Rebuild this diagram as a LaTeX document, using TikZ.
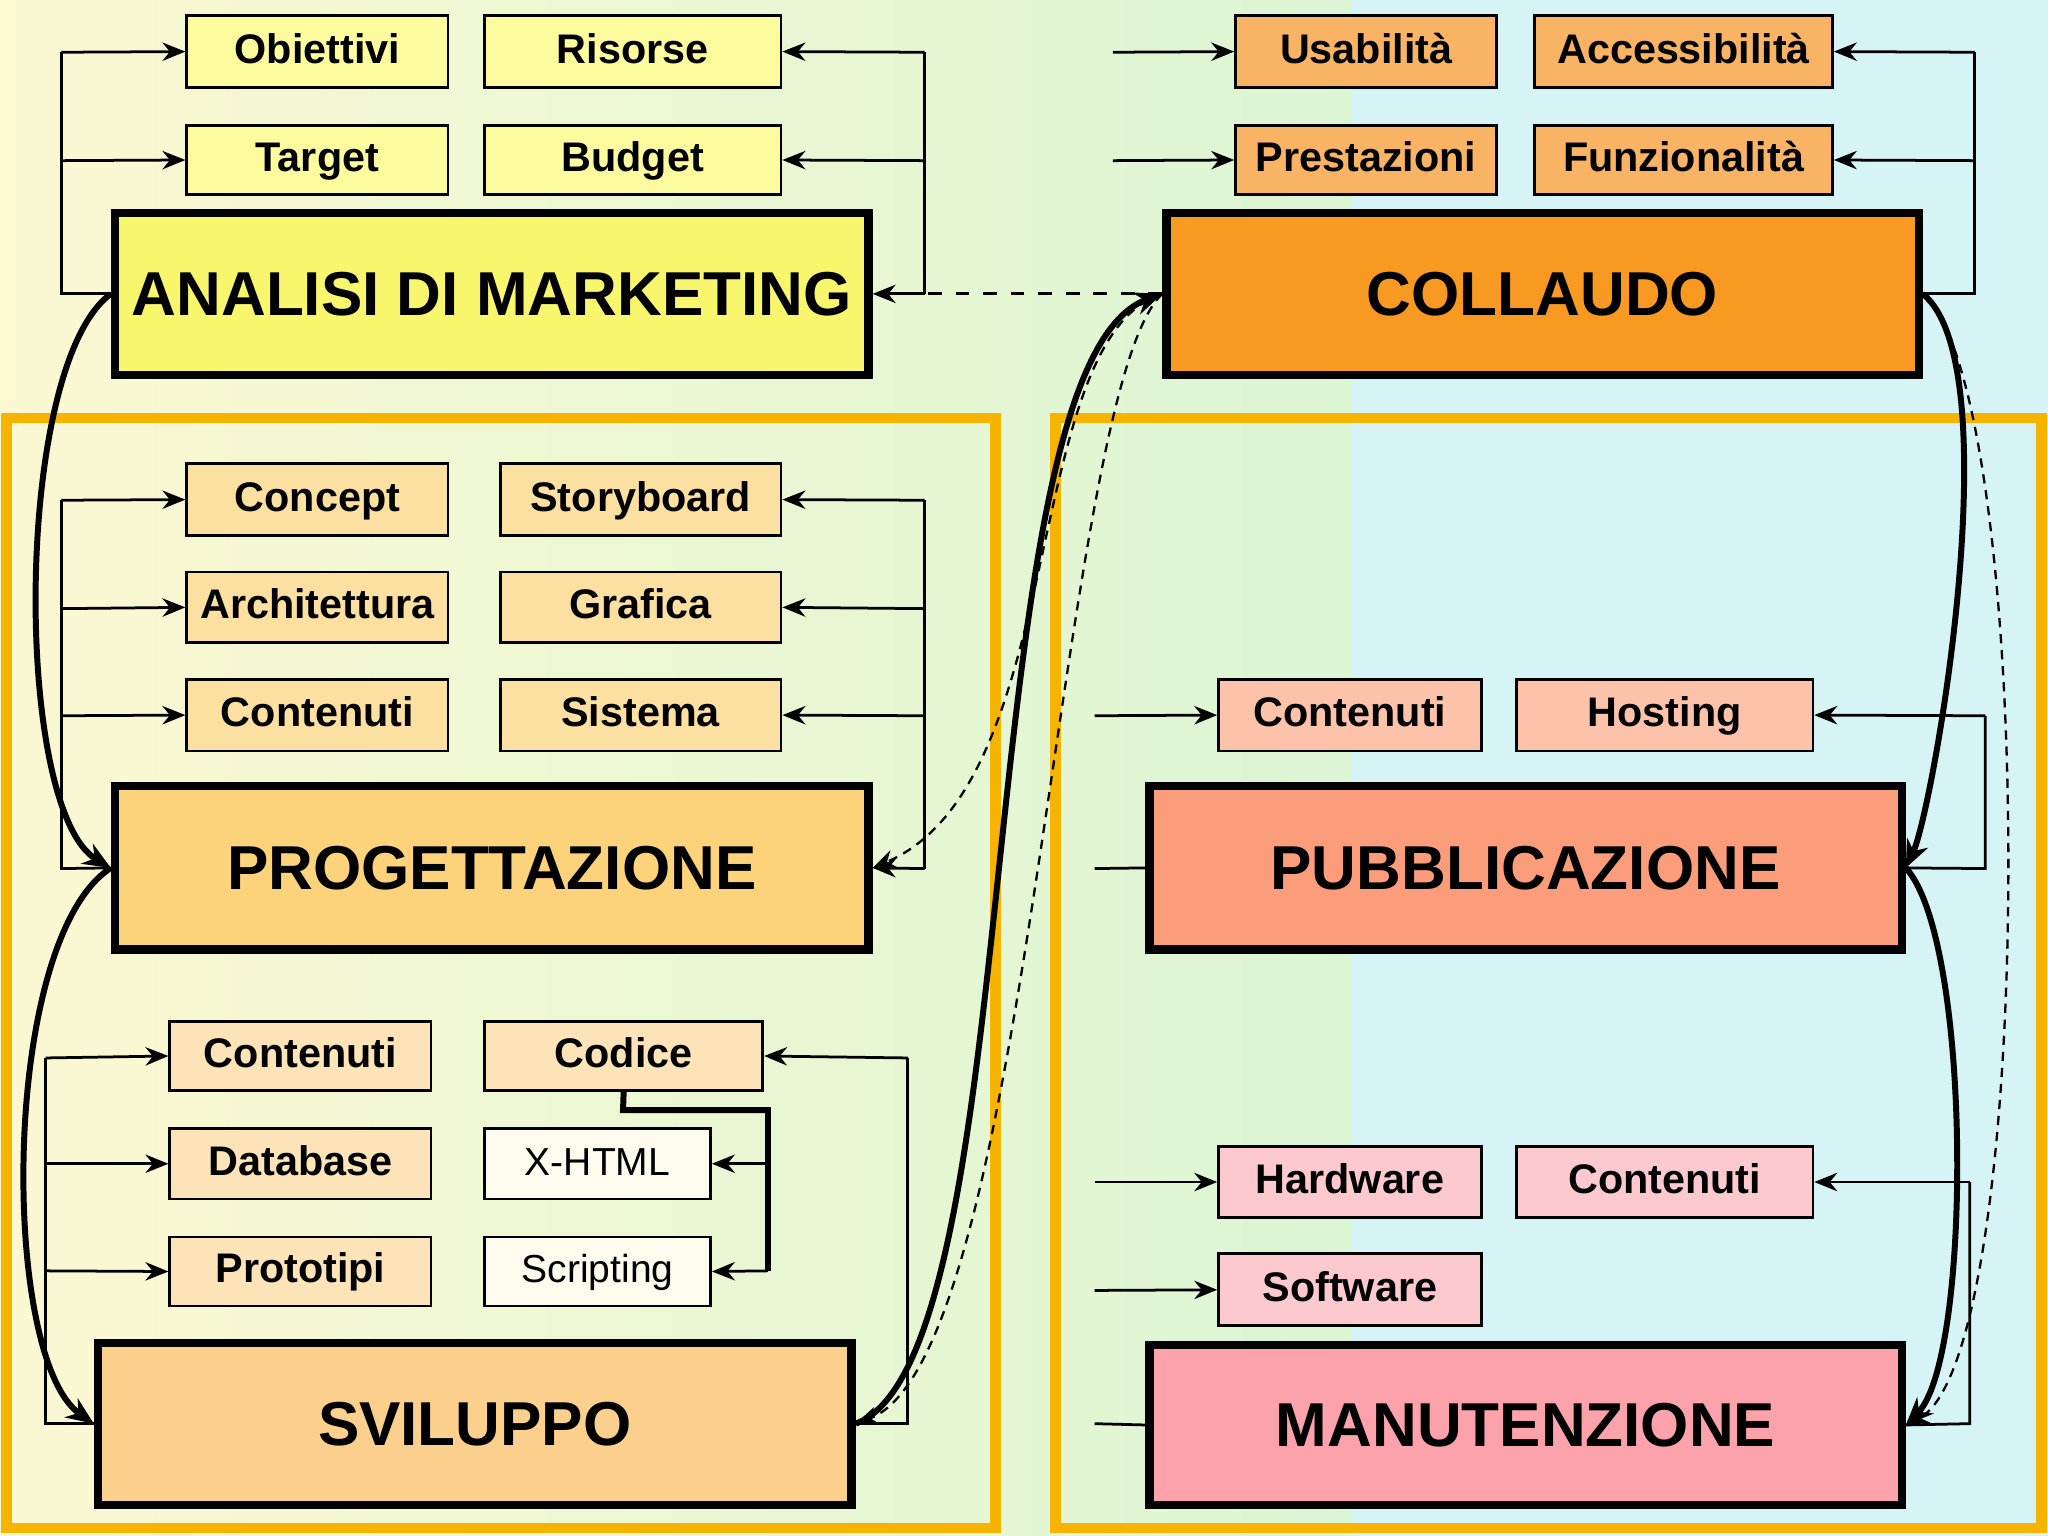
\documentclass[tikz,border=0pt]{standalone}
\usepackage{fontspec}
\setmainfont{Liberation Sans}
\usetikzlibrary{arrows.meta}
\definecolor{frameor}{HTML}{F6B400}
\definecolor{bgy}{HTML}{FBF8D2}
\definecolor{bgg}{HTML}{DCF5D4}
\definecolor{bgc}{HTML}{D6F3F5}
\definecolor{cy1}{HTML}{FCFB9E}
\definecolor{cy2}{HTML}{F8F66C}
\definecolor{co1}{HTML}{F8B464}
\definecolor{co2}{HTML}{F89A22}
\definecolor{cp1}{HTML}{FCE0A2}
\definecolor{cp2}{HTML}{FCD27A}
\definecolor{cs1}{HTML}{FCE4B8}
\definecolor{cs2}{HTML}{FBD08C}
\definecolor{cw}{HTML}{FDFAEE}
\definecolor{cb1}{HTML}{FCC2AA}
\definecolor{cb2}{HTML}{FB9C7A}
\definecolor{cm1}{HTML}{FCCACE}
\definecolor{cm2}{HTML}{FCA2AA}
\tikzset{
 x=0.01cm,y=-0.01cm,
 sm/.style={draw=black,line width=0.6pt,font=\bfseries\fontsize{9}{10}\selectfont,inner sep=0pt,text height=6.5pt,text depth=1.5pt},
 thin/.style={draw=black,line width=0.6pt,font=\fontsize{8.5}{10}\selectfont,inner sep=0pt,fill=cw,text height=6.5pt,text depth=1.5pt},
 big/.style={draw=black,line width=1.8pt,font=\bfseries\fontsize{13.5}{15}\selectfont,inner sep=0pt},
 ar/.style={-{Stealth[length=5pt,width=4pt]},line width=0.6pt},
 ln/.style={line width=0.6pt},
 tk/.style={-{Stealth[length=6pt,width=5pt]},line width=1.3pt},
 ds/.style={-{Stealth[length=5pt,width=4pt]},line width=0.5pt,dash pattern=on 2pt off 1.5pt},
}
\newcommand{\bx}[7]{\node[#6,minimum width={(#4-#2)*0.01cm},minimum height={(#5-#3)*0.01cm}] (#1) at ({(#2+#4)/2},{(#3+#5)/2}) {#7};}
\begin{document}
\begin{tikzpicture}
\useasboundingbox (0,0) rectangle (1568,1176);
\shade[left color=bgy,right color=bgg] (0,0) rectangle (1035,1176);
\fill[bgc] (1035,0) rectangle (1568,1176);
\draw[frameor,line width=2.3pt] (5,320) rectangle (762,1170);
\draw[frameor,line width=2.3pt] (808,320) rectangle (1563,1170);
% analisi
\bx{ob}{143}{12}{343}{67}{sm,fill=cy1}{Obiettivi}
\bx{ri}{371}{12}{598}{67}{sm,fill=cy1}{Risorse}
\bx{ta}{143}{96}{343}{149}{sm,fill=cy1}{Target}
\bx{bu}{371}{96}{598}{149}{sm,fill=cy1}{Budget}
\bx{am}{88}{163}{665}{287}{big,fill=cy2}{ANALISI DI MARKETING}
% collaudo
\bx{us}{946}{12}{1146}{67}{sm,fill=co1}{Usabilità}
\bx{ac}{1175}{12}{1403}{67}{sm,fill=co1}{Accessibilità}
\bx{pr}{946}{96}{1146}{149}{sm,fill=co1}{Prestazioni}
\bx{fu}{1175}{96}{1403}{149}{sm,fill=co1}{Funzionalità}
\bx{co}{893}{163}{1469}{287}{big,fill=co2}{COLLAUDO}
% progettazione
\bx{cn}{143}{355}{343}{410}{sm,fill=cp1}{Concept}
\bx{st}{383}{355}{598}{410}{sm,fill=cp1}{Storyboard}
\bx{arc}{143}{438}{343}{492}{sm,fill=cp1}{Architettura}
\bx{gr}{383}{438}{598}{492}{sm,fill=cp1}{Grafica}
\bx{ct1}{143}{520}{343}{575}{sm,fill=cp1}{Contenuti}
\bx{si}{383}{520}{598}{575}{sm,fill=cp1}{Sistema}
\bx{pg}{88}{602}{665}{727}{big,fill=cp2}{PROGETTAZIONE}
% sviluppo
\bx{ct2}{130}{782}{330}{835}{sm,fill=cs1}{Contenuti}
\bx{cd}{371}{782}{584}{835}{sm,fill=cs1}{Codice}
\bx{db}{130}{864}{330}{918}{sm,fill=cs1}{Database}
\bx{xh}{371}{864}{544}{918}{thin}{X-HTML}
\bx{pt}{130}{947}{330}{1000}{sm,fill=cs1}{Prototipi}
\bx{sc}{371}{947}{544}{1000}{thin}{Scripting}
\bx{sv}{75}{1028}{652}{1152}{big,fill=cs2}{SVILUPPO}
% pubblicazione
\bx{ct3}{933}{520}{1134}{575}{sm,fill=cb1}{Contenuti}
\bx{ho}{1161}{520}{1388}{575}{sm,fill=cb1}{Hosting}
\bx{pb}{880}{602}{1456}{727}{big,fill=cb2}{PUBBLICAZIONE}
% manutenzione
\bx{hw}{933}{878}{1134}{932}{sm,fill=cm1}{Hardware}
\bx{ct4}{1161}{878}{1388}{932}{sm,fill=cm1}{Contenuti}
\bx{sw}{933}{960}{1134}{1015}{sm,fill=cm1}{Software}
\bx{mn}{880}{1030}{1456}{1152}{big,fill=cm2}{MANUTENZIONE}
% free coordinates
\coordinate (u0) at (852,40); \coordinate (p0) at (852,123);
\coordinate (c30) at (838,548); \coordinate (hw0) at (838,905); \coordinate (sw0) at (838,988);
\coordinate (pb0) at (838,665); \coordinate (mn0) at (838,1090);
% analisi brackets
\draw[ln] (am.west) -- (47,225) -- (47,40);
\draw[ar] (47,40) -- (ob.west);
\draw[ar] (47,123) -- (ta.west);
\draw[ln] (708,225) -- (708,40);
\draw[ar] (708,40) -- (ri.east);
\draw[ar] (708,123) -- (bu.east);
\draw[ar] (708,225) -- (am.east);
\draw[ln,dashed] (co.west) -- (708,225);
% collaudo
\draw[ar] (u0) -- (us.west);
\draw[ar] (p0) -- (pr.west);
\draw[ln] (co.east) -- (1512,225) -- (1512,40);
\draw[ar] (1512,40) -- (ac.east);
\draw[ar] (1512,123) -- (fu.east);
% progettazione
\draw[ln] (pg.west) -- (47,665) -- (47,383);
\draw[ar] (47,383) -- (cn.west);
\draw[ar] (47,466) -- (arc.west);
\draw[ar] (47,548) -- (ct1.west);
\draw[ln] (708,665) -- (708,383);
\draw[ar] (708,383) -- (st.east);
\draw[ar] (708,466) -- (gr.east);
\draw[ar] (708,548) -- (si.east);
\draw[ar] (708,665) -- (pg.east);
% sviluppo
\draw[ln] (sv.west) -- (35,1090) -- (35,810);
\draw[ar] (35,810) -- (ct2.west);
\draw[ar] (35,891) -- (db.west);
\draw[ar] (35,973) -- (pt.west);
\draw[ln] (sv.east) -- (695,1090) -- (695,810);
\draw[ar] (695,810) -- (cd.east);
\draw[line width=1.3pt] (cd.south) -- (477,850) -- (588,850) -- (588,973);
\draw[ar] (588,891) -- (xh.east);
\draw[ar] (588,973) -- (sc.east);
% pubblicazione / manutenzione
\draw[ar] (c30) -- (ct3.west);
\draw[ln] (pb0) -- (pb.west);
\draw[ln] (pb.east) -- (1520,665) -- (1520,548);
\draw[ar] (1520,548) -- (ho.east);
\draw[ar] (hw0) -- (hw.west);
\draw[ar] (sw0) -- (sw.west);
\draw[ln] (mn0) -- (mn.west);
\draw[ln] (mn.east) -- (1508,1090) -- (1508,905);
\draw[ar] (1508,905) -- (ct4.east);
% thick flow curves
\draw[tk] (am.west) .. controls (10,280) and (10,620) .. (pg.west);
\draw[tk] (pg.west) .. controls (0,720) and (0,1040) .. (sv.west);
\draw[tk] (sv.east) .. controls (790,1040) and (740,280) .. (co.west);
\draw[tk] (co.east) .. controls (1540,280) and (1480,620) .. (pb.east);
\draw[tk] (pb.east) .. controls (1510,720) and (1510,1040) .. (mn.east);
% dashed curves
\draw[ds] (co.west) .. controls (780,260) and (820,600) .. (pg.east);
\draw[ds] (co.west) .. controls (810,300) and (790,1040) .. (sv.east);
\draw[ds] (co.east) .. controls (1560,300) and (1560,1040) .. (mn.east);
\end{tikzpicture}
\end{document}
